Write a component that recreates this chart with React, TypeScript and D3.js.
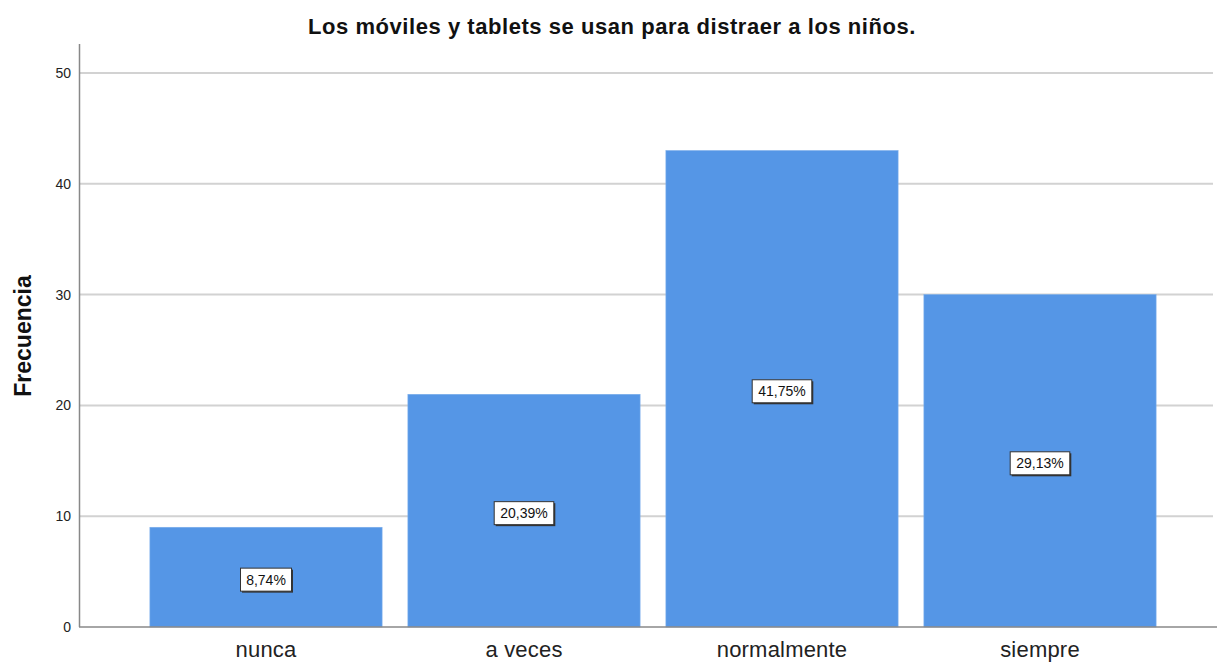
import React from "react";
import * as d3 from "d3";

const categories = ["nunca", "a veces", "normalmente", "siempre"];
const counts = [9, 21, 43, 30];
const percentLabels = ["8,74%", "20,39%", "41,75%", "29,13%"];
const yTicks = [0, 10, 20, 30, 40, 50];

const W = 1217;
const H = 662;

export default function App() {
  const x = d3.scaleBand<string>().domain(categories).range([137, 1169]).paddingInner(0.1).paddingOuter(0.05);
  const y = d3.scaleLinear().domain([0, 50]).range([627, 73]);
  const font = "'Liberation Sans', Arial, sans-serif";
  return (
    <svg width={W} height={H} style={{ position: "absolute", left: 0, top: 0 }} fontFamily={font}>
      <rect width={W} height={H} fill="#fff" />
      <text x={612} y={34} textAnchor="middle" fontSize={22} fontWeight="bold" letterSpacing={0.55} fill="#111">
        Los móviles y tablets se usan para distraer a los niños.
      </text>
      {yTicks.filter((t) => t > 0).map((t) => (
        <line key={t} x1={80} x2={1213} y1={y(t)} y2={y(t)} stroke="#d2d2d2" strokeWidth={2} />
      ))}
      {yTicks.map((t) => (
        <text key={t} x={71} y={y(t) + 5} textAnchor="end" fontSize={14} fill="#222">
          {t}
        </text>
      ))}
      {categories.map((c, i) => (
        <rect key={c} x={x(c)} y={y(counts[i])} width={x.bandwidth()} height={y(0) - y(counts[i])} fill="#5596e6" stroke="#7aadea" strokeWidth={0.6} />
      ))}
      <line x1={79.5} x2={79.5} y1={44} y2={627} stroke="#888" strokeWidth={1.5} />
      <line x1={79} x2={1217} y1={627} y2={627} stroke="#888" strokeWidth={1.5} />
      {categories.map((c, i) => (
        <text key={c} x={x(c)! + x.bandwidth() / 2} y={657} textAnchor="middle" fontSize={22} letterSpacing={0.2} fill="#222">
          {c}
        </text>
      ))}
      {categories.map((c, i) => {
        const cx = x(c)! + x.bandwidth() / 2;
        const cy = y(counts[i] / 2) + 2;
        const w = percentLabels[i].length * 8.6 + 8;
        return (
          <g key={c}>
            <rect x={cx - w / 2 + 1.5} y={cy - 11 + 1.5} width={w} height={23} fill="#333" />
            <rect x={cx - w / 2} y={cy - 11} width={w} height={23} fill="#fff" stroke="#333" strokeWidth={1} />
            <text x={cx} y={cy + 5.5} textAnchor="middle" fontSize={14} fill="#111">
              {percentLabels[i]}
            </text>
          </g>
        );
      })}
      <text transform={`translate(31,336) rotate(-90)`} textAnchor="middle" fontSize={23} fontWeight="bold" fill="#111">
        Frecuencia
      </text>
    </svg>
  );
}
